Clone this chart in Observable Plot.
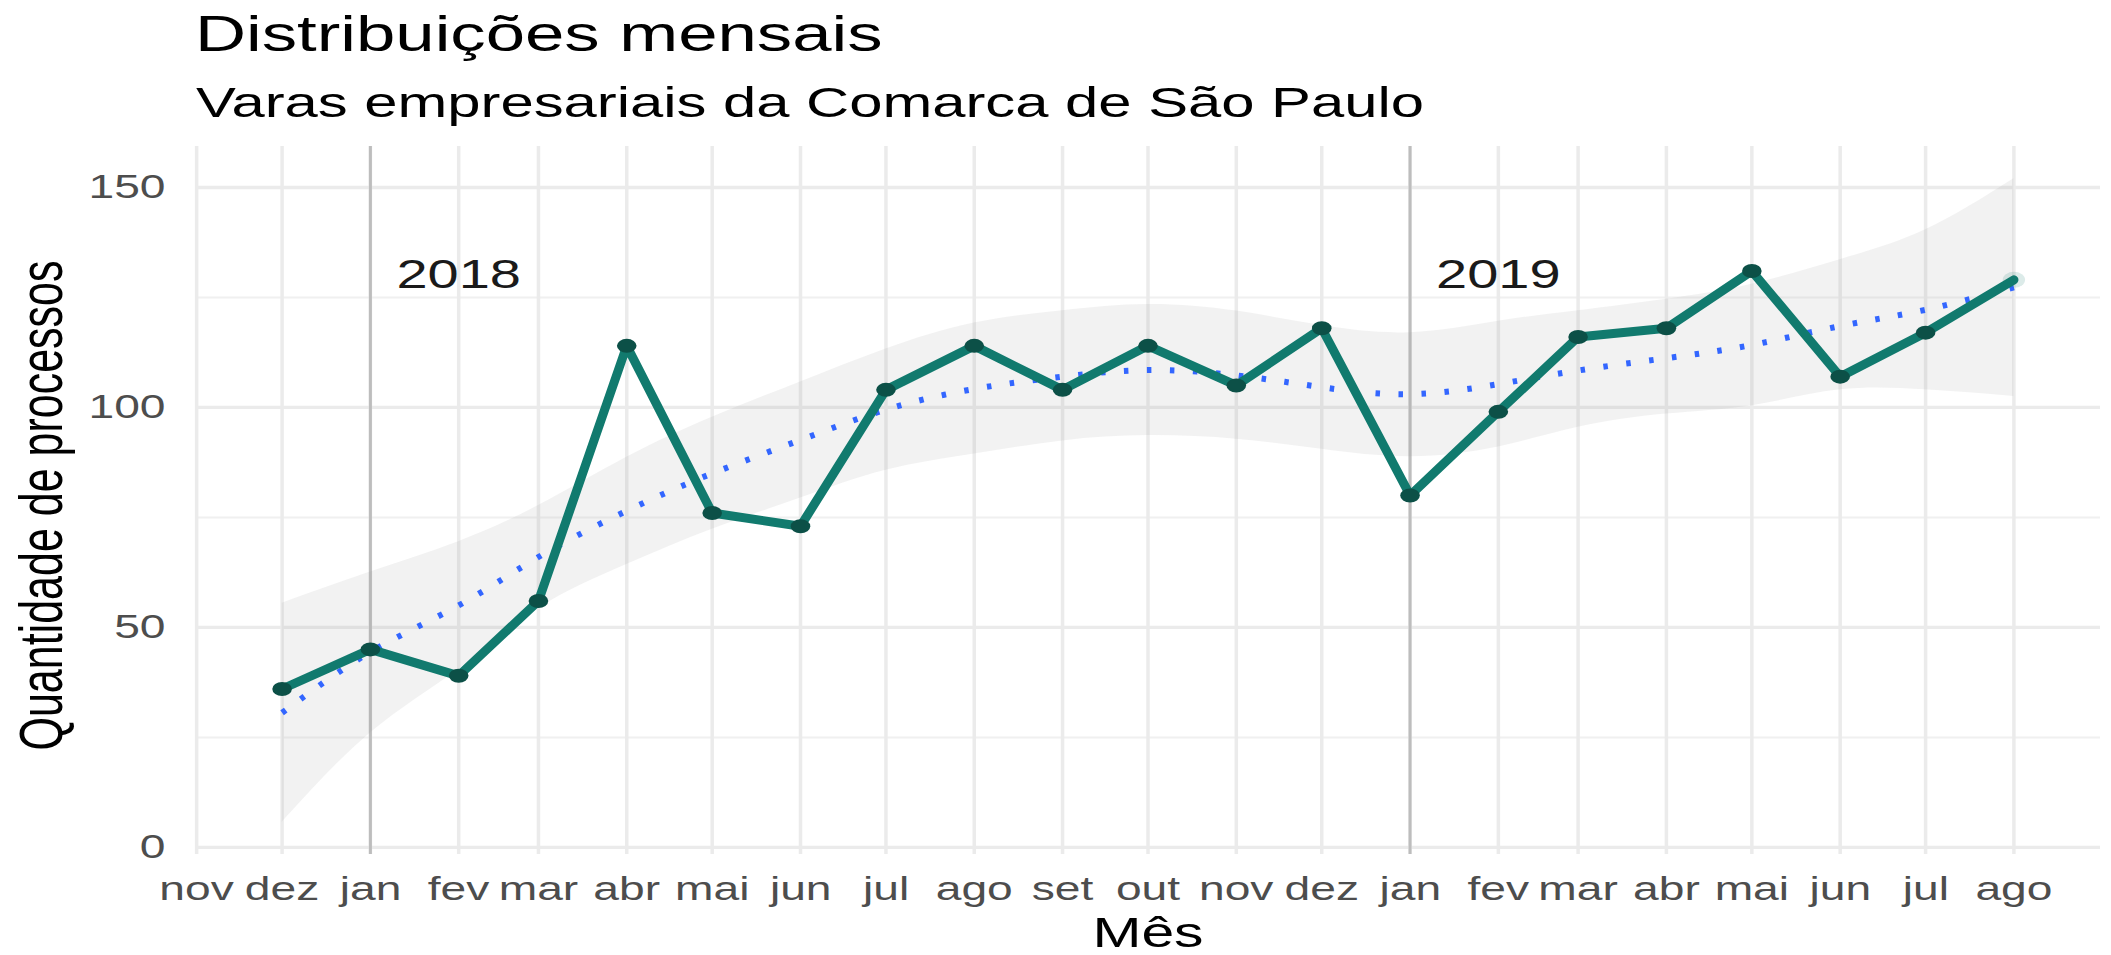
<!DOCTYPE html>
<html>
<head>
<meta charset="utf-8">
<script src="https://cdn.jsdelivr.net/npm/d3@7"></script>
<script src="https://cdn.jsdelivr.net/npm/@observablehq/plot@0.6"></script>
<style>
  html, body { margin: 0; padding: 0; background: #fff; }
  #wrap { position: relative; width: 2111px; height: 955px; overflow: hidden; background: #fff; font-family: 'Liberation Sans', Arial, sans-serif; }
  #wrap svg { position: absolute; left: 0; top: 0; }
  .txt { position: absolute; white-space: nowrap; color: #000; }
</style>
</head>
<body>
<div id="wrap">
  <div class="txt" id="title" style="left:195px; top:9.3px; font-size:50.5px; line-height:50.5px; transform:scaleX(1.4); transform-origin:0 0;">Distribuições mensais</div>
  <div class="txt" id="subtitle" style="left:196px; top:80.9px; font-size:42.7px; line-height:42.7px; transform:scaleX(1.4); transform-origin:0 0;">Varas empresariais da Comarca de São Paulo</div>
  <div class="txt" id="xlabel" style="left:947.5px; width:400px; text-align:center; top:912.4px; font-size:42px; line-height:42px; transform:scaleX(1.4); transform-origin:50% 50%;">Mês</div>
  <div class="txt" id="ylabel" style="left:-258px; width:600px; text-align:center; top:483.5px; height:43px; font-size:43px; line-height:43px; transform:scaleX(1.4) rotate(-90deg); transform-origin:50% 50%;">Quantidade de processos</div>
</div>
<script>
// ---- data ----
const months = ["2017-12","2018-01","2018-02","2018-03","2018-04","2018-05","2018-06","2018-07","2018-08","2018-09","2018-10","2018-11","2018-12","2019-01","2019-02","2019-03","2019-04","2019-05","2019-06","2019-07","2019-08"];
const processos = [36, 45, 39, 56, 114, 76, 73, 104, 114, 104, 114, 105, 118, 80, 99, 116, 118, 131, 107, 117, 129];
// loess fit (dotted blue) and its confidence band (grey ribbon)
const loessFit  = [30.6, 44.4, 55.0, 66.0, 76.5, 85.0, 92.6, 99.5, 104.2, 107.0, 108.5, 107.3, 104.6, 103.0, 105.3, 108.4, 111.2, 114.2, 118.5, 122.2, 127.3];
const loessLow  = [5.7, 26.0, 40.5, 54.3, 64.3, 72.3, 79.4, 85.7, 89.4, 92.4, 93.6, 92.8, 90.5, 88.8, 91.0, 95.5, 98.5, 100.4, 104.0, 104.0, 102.5];
const loessHigh = [55.5, 62.6, 69.5, 77.7, 88.7, 97.8, 105.8, 113.3, 119.2, 122.0, 123.4, 121.9, 118.6, 117.0, 119.6, 122.0, 124.6, 128.0, 133.6, 140.4, 152.0];
const monthLabels = ["jan","fev","mar","abr","mai","jun","jul","ago","set","out","nov","dez"];
const yTicks = [0, 50, 100, 150];
const yMinorTicks = [25, 75, 125];
const yearLineMonths = ["2018-01", "2019-01"];
const yearLabelMonths = ["2018-02", "2019-02"];
const yearLabels = ["2018", "2019"];
const yearLabelValue = 130;

// ---- build ----
const parse = s => { const [y, m] = s.split("-").map(Number); return new Date(Date.UTC(y, m - 1, 1)); };
const data = months.map((m, i) => ({date: parse(m), n: processos[i], fit: loessFit[i], lo: loessLow[i], hi: loessHigh[i]}));
const t0 = data[0].date, t1 = data[data.length - 1].date;
const xpad = (t1 - t0) * 0.05;
const xDomain = [new Date(+t0 - xpad), new Date(+t1 + xpad)];
const allY = data.flatMap(d => [d.n, d.lo, d.hi]);
const yMin = d3.min(allY), yMax = d3.max(allY), ypad = (yMax - yMin) * 0.05;
const yDomain = [yMin - ypad, yMax + ypad];
const monthTicks = d3.utcMonth.range(xDomain[0], xDomain[1]);
const yearLines = yearLineMonths.map(parse);
const yearText = yearLabels.map((l, i) => ({date: parse(yearLabelMonths[i]), y: yearLabelValue, label: l}));

const chart = Plot.plot({
  width: 2111,
  height: 955,
  marginLeft: 195,
  marginRight: 11,
  marginTop: 146,
  marginBottom: 101,
  style: {fontFamily: "'Liberation Sans', Arial, sans-serif", fontSize: "33px", color: "#4D4D4D", background: "transparent", overflow: "visible"},
  x: {type: "utc", domain: xDomain, ticks: monthTicks, tickFormat: d => monthLabels[d.getUTCMonth()], tickSize: 0, tickPadding: 22, label: null},
  y: {domain: yDomain, ticks: yTicks, tickSize: 0, tickPadding: 30, label: null},
  marks: [
    Plot.ruleY(yMinorTicks, {stroke: "#F0F0F0", strokeWidth: 2}),
    Plot.ruleY(yTicks, {stroke: "#EBEBEB", strokeWidth: 3.3}),
    Plot.ruleX(monthTicks, {stroke: "#EBEBEB", strokeWidth: 3.5}),
    Plot.ruleX(yearLines, {stroke: "#BDBDBD", strokeWidth: 3}),
    Plot.areaY(data, {x: "date", y1: "lo", y2: "hi", fill: "#999999", fillOpacity: 0.13, curve: "natural"}),
    Plot.lineY(data, {x: "date", y: "fit", stroke: "#3366FF", strokeWidth: 6, strokeDasharray: "4.5,18.5", strokeLinecap: "butt", curve: "natural"}),
    Plot.dot(data.slice(-1), {x: "date", y: "n", r: 8, fill: "#117A6E", fillOpacity: 0.15}),
    Plot.lineY(data, {x: "date", y: "n", stroke: "#117A6E", strokeWidth: 9, strokeLinejoin: "round"}),
    Plot.dot(data.slice(0, -1), {x: "date", y: "n", r: 7, fill: "#0C5047"}),
    Plot.text(yearText, {x: "date", y: "y", text: "label", fontSize: 40, fill: "#1A1A1A"})
  ]
});
document.getElementById("wrap").appendChild(chart);

// the reference image is stretched horizontally: widen SVG texts and dots about their anchor
const k = 1.4;
chart.querySelectorAll("text").forEach(t => {
  const b = t.getBBox();
  const anchor = getComputedStyle(t).textAnchor;
  const ax = anchor === "end" ? b.x + b.width : anchor === "middle" ? b.x + b.width / 2 : b.x;
  const old = t.getAttribute("transform") || "";
  t.setAttribute("transform", `${old} translate(${ax},0) scale(${k},1) translate(${-ax},0)`);
});
chart.querySelectorAll("circle").forEach(c => {
  const b = c.getBBox();
  const ax = b.x + b.width / 2;
  const old = c.getAttribute("transform") || "";
  c.setAttribute("transform", `${old} translate(${ax},0) scale(${k},1) translate(${-ax},0)`);
});
</script>
</body>
</html>
